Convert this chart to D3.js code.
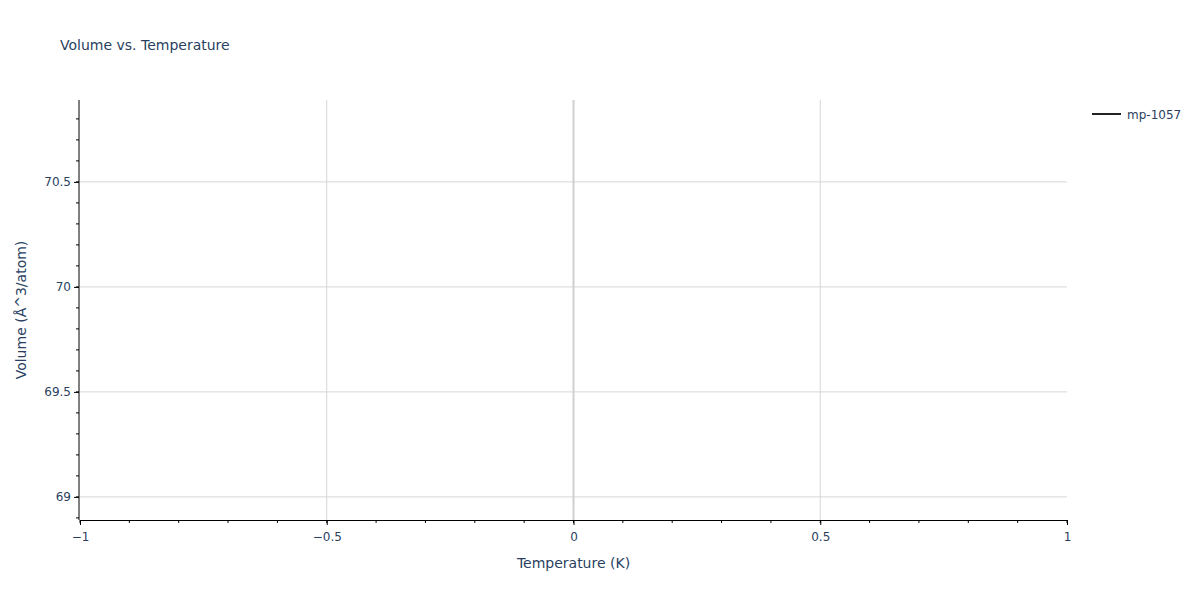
<!DOCTYPE html>
<html>
<head>
    <meta charset="utf-8">
    <title>Volume vs. Temperature</title>
    <script src="https://d3js.org/d3.v7.min.js" charset="utf-8"></script>
    <style>
        html, body { margin: 0; padding: 0; background: #fff; }
        text { font-family: "DejaVu Sans", verdana, arial, sans-serif; fill: #2a3f5f; }
        .grid line { stroke: #d6d6d6; stroke-width: 1px; }
        .axis path, .axis line { stroke: #000; }
    </style>
</head>
<body>
    <div id="chart"></div>
    <script>
        // data
        const seriesNames = ["mp-1057"];
        const temperature = [0];
        const volume = [69.89];
        const xTicks = [-1, -0.5, 0, 0.5, 1];
        const yTicks = [69, 69.5, 70, 70.5];

        const width = 1200, height = 600;
        const margin = { left: 80, right: 133, top: 100, bottom: 80 };

        const svg = d3.select("#chart").append("svg")
            .attr("width", width)
            .attr("height", height);

        const x = d3.scaleLinear().domain([-1, 1]).range([margin.left, width - margin.right]);
        const y = d3.scaleLinear().domain([68.89, 70.89]).range([height - margin.bottom, margin.top]);

        // title
        svg.append("text")
            .attr("x", 60).attr("y", 50)
            .style("font-size", "14px")
            .text("Volume vs. Temperature");

        // gridlines
        const grid = svg.append("g").attr("class", "grid");
        grid.selectAll(".gx").data(xTicks.filter(d => d !== 0 && d !== -1 && d !== 1))
            .enter().append("line")
            .attr("x1", d => x(d)).attr("x2", d => x(d))
            .attr("y1", margin.top).attr("y2", height - margin.bottom);
        grid.selectAll(".gy").data(yTicks)
            .enter().append("line")
            .attr("x1", margin.left).attr("x2", width - margin.right)
            .attr("y1", d => y(d)).attr("y2", d => y(d));

        // zero line
        svg.append("line")
            .attr("x1", x(0)).attr("x2", x(0))
            .attr("y1", margin.top).attr("y2", height - margin.bottom)
            .attr("stroke", "#d0d0d0").attr("stroke-width", 2);

        // minor ticks
        const xMinor = d3.range(-10, 11).map(d => d / 10);
        const yMinor = d3.range(689, 709).map(d => d / 10);
        svg.append("g").selectAll("line").data(xMinor).enter().append("line")
            .attr("x1", d => x(d)).attr("x2", d => x(d))
            .attr("y1", height - margin.bottom).attr("y2", height - margin.bottom + 3)
            .attr("stroke", "#000");
        svg.append("g").selectAll("line").data(yMinor).enter().append("line")
            .attr("x1", margin.left - 1).attr("x2", margin.left - 4)
            .attr("y1", d => y(d)).attr("y2", d => y(d))
            .attr("stroke", "#000");

        // axes
        const xAxis = svg.append("g").attr("class", "axis")
            .attr("transform", "translate(0," + (height - margin.bottom) + ")")
            .call(d3.axisBottom(x).tickValues(xTicks).tickSize(5).tickSizeOuter(0)
                .tickFormat(d => d3.format("")(d).replace("-", "\u2212")));
        xAxis.selectAll("text").style("font-size", "12px").attr("dy", "1.1em");

        const yAxis = svg.append("g").attr("class", "axis")
            .attr("transform", "translate(" + (margin.left - 1) + ",0)")
            .call(d3.axisLeft(y).tickValues(yTicks).tickSize(5).tickSizeOuter(0)
                .tickFormat(d3.format("")));
        yAxis.selectAll("text").style("font-size", "12px").attr("x", -8);
        yAxis.select(".domain").attr("d", "M0," + margin.top + "V" + (height - margin.bottom));

        // axis titles
        svg.append("text")
            .attr("x", (x(-1) + x(1)) / 2).attr("y", 568)
            .attr("text-anchor", "middle")
            .style("font-size", "14px")
            .text("Temperature (K)");
        svg.append("text")
            .attr("transform", "translate(26," + ((margin.top + height - margin.bottom) / 2) + ") rotate(-90)")
            .attr("text-anchor", "middle")
            .style("font-size", "14px")
            .text("Volume (Å^3/atom)");

        // series line (a single point draws no visible segment)
        const line = d3.line().x(d => x(d[0])).y(d => y(d[1]));
        svg.append("path")
            .datum(temperature.map((t, i) => [t, volume[i]]))
            .attr("fill", "none")
            .attr("stroke", "#222")
            .attr("stroke-width", 2)
            .attr("d", line);

        // legend
        const legend = svg.append("g").attr("transform", "translate(1092,114)");
        legend.selectAll("line").data(seriesNames).enter().append("line")
            .attr("x1", 0).attr("x2", 29).attr("y1", 0).attr("y2", 0)
            .attr("stroke", "#222").attr("stroke-width", 2);
        legend.selectAll("text").data(seriesNames).enter().append("text")
            .attr("x", 35).attr("y", 5)
            .style("font-size", "12px")
            .text(d => d);
    </script>
</body>
</html>
